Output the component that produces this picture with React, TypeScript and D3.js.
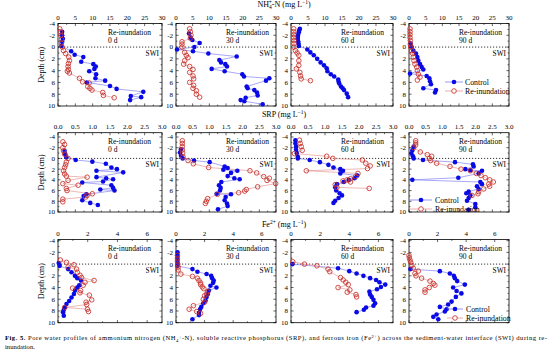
import React from 'react';
import * as d3 from 'd3';

// ---- data: [value, depth (cm)] ----
const nh4Ctrl0 = [[1.2,-2.6],[1.2,-2.0],[1.4,-1.4],[1.2,-0.9],[1.0,-0.2],[3.8,0.7],[4.8,1.3],[7.3,1.7],[6.7,2.5],[10.2,2.9],[10.9,3.3],[10.5,3.7],[9.0,4.1],[11.0,4.6],[10.8,5.3],[13.6,5.7],[8.3,6.0],[15.0,6.6],[16.9,7.1],[24.6,7.6],[21.0,8.3],[24.0,8.5],[20.8,9.0]];
const nh4Re0 = [[0.5,-3.1],[0.7,-2.6],[0.8,-2.0],[1.0,-1.3],[1.0,-0.7],[1.2,0],[1.6,0.6],[2.2,1.1],[3.1,1.7],[3.3,2.3],[3.0,2.8],[2.9,3.3],[3.0,3.8],[2.7,4.1],[3.3,4.4],[6.2,5.3],[7.1,5.9],[9.0,6.1],[8.6,6.7],[9.2,7.0],[9.8,7.3],[12.9,7.7],[13.1,8.2],[16.2,8.6]];
const nh4Ctrl30 = [[3.9,-2.3],[4.4,-1.6],[4.9,-1.2],[7.1,-0.7],[5.5,0.0],[0.3,0.4],[5.1,0.7],[9.7,1.1],[18.2,1.6],[13.0,2.2],[13.5,2.6],[14.8,2.9],[15.3,3.3],[10.7,3.7],[14.6,4.1],[19.9,4.6],[20.4,5.0],[28.0,5.3],[27.0,5.7],[21.2,6.7],[21.5,7.0],[23.5,7.3],[24.3,7.7],[24.5,8.2],[20.9,8.6],[19.4,9.0],[20.5,9.2],[26.0,9.7]];
const nh4Re30 = [[4.1,-3.1],[4.3,-2.6],[4.5,-2.0],[4.3,-1.5],[1.8,-0.9],[1.8,-0.5],[1.8,0],[2.6,0.9],[3.1,1.4],[3.6,1.8],[2.6,2.3],[2.3,2.9],[4.1,3.3],[5.1,3.8],[4.1,4.3],[5.1,4.9],[5.3,5.4],[4.1,6.0],[5.3,6.5],[5.1,7.0],[6.1,7.4],[6.1,8.0],[7.1,8.5]];
const nh4Ctrl60 = [[2.6,-3.1],[2.4,-2.8],[2.3,-2.5],[2.1,-2.1],[2.0,-1.8],[2.0,-1.4],[2.1,-1.0],[2.2,-0.6],[2.3,-0.2],[4.8,0.4],[5.7,0.9],[6.7,1.4],[7.7,2.0],[8.7,2.6],[9.7,3.1],[10.5,3.6],[10.7,4.1],[11.7,4.6],[12.7,5.0],[13.9,5.5],[14.0,5.9],[14.2,6.2],[14.7,6.7],[15.2,7.0],[15.6,7.3],[16.4,7.9],[16.8,8.5]];
const nh4Re60 = [[0.8,-3.1],[0.8,-2.6],[0.8,-2.1],[0.8,-1.6],[0.9,-1.1],[0.9,-0.6],[0.8,0],[1.3,0.6],[1.8,1.0],[2.3,1.4],[2.3,2.3],[2.3,3.1],[1.6,3.7],[2.6,4.3],[2.8,4.9],[3.0,5.4],[5.7,5.7]];
const nh4Ctrl90 = [[0.5,-0.6],[0.8,0],[1.3,0.6],[2.1,1.1],[2.5,1.7],[2.8,2.3],[3.3,2.9],[3.8,3.4],[4.3,3.8],[0.3,4.5],[5.3,4.9],[6.1,5.3],[6.3,5.8],[6.6,6.3],[4.3,7.0],[8.1,7.3],[7.8,7.7]];
const nh4Re90 = [[0.3,-3.1],[0.3,-2.6],[0.3,-2.1],[0.3,-1.6],[0.4,-1.1],[0.4,-0.5],[0.5,0],[0.8,0.6],[1.1,1.1],[1.3,1.7],[1.5,2.3],[1.8,2.9],[2.3,3.4],[2.5,4.0],[2.8,4.6],[3.3,5.1],[2.5,5.6]];

const srpCtrl0 = [[0.19,-1.4],[0.21,-0.8],[0.24,-0.2],[0.51,0.3],[0.99,0.6],[1.38,1.0],[1.54,1.7],[1.70,2.0],[1.11,2.3],[1.88,2.6],[1.11,3.5],[1.39,3.7],[1.59,3.9],[1.30,4.3],[0.70,4.5],[1.54,5.0],[1.59,5.5],[1.22,5.8],[1.63,6.0],[0.82,6.7],[0.74,7.0],[0.70,7.8],[0.93,8.3],[1.15,8.7]];
const srpRe0 = [[0.14,-3.1],[0.19,-2.6],[0.14,-2.0],[0.16,-1.4],[0.19,-0.8],[0.29,0],[0.24,0.7],[0.22,1.2],[0.19,1.7],[0.16,2.3],[0.19,2.9],[0.24,3.3],[0.84,3.5],[0.29,4.1],[0.14,4.7],[0.58,5.0],[0.24,5.6],[0.26,6.0],[0.99,6.6],[0.84,6.9],[0.80,7.2],[0.14,7.6],[0.14,8.1]];
const srpCtrl30 = [[0.15,-1.7],[0.12,-1.1],[0.15,-0.5],[0.2,0],[0.54,0.4],[1.01,0.7],[1.46,1.5],[1.55,1.8],[1.42,2.1],[1.84,2.3],[1.65,2.7],[1.55,3.3],[1.75,3.7],[1.91,3.9],[1.36,4.4],[1.29,5.0],[1.34,5.5],[1.32,6.0],[1.22,6.6],[1.65,6.7],[1.49,7.2],[1.46,7.8],[1.53,8.4],[1.55,8.9],[1.26,9.5]];
const srpRe30 = [[0.19,-3.3],[0.19,-2.8],[0.19,-2.2],[0.19,-1.6],[0.2,-1.0],[0.21,-0.3],[0.36,0.4],[0.52,1.0],[0.98,1.7],[2.22,2.3],[2.42,2.7],[2.63,3.4],[2.80,3.7],[2.73,4.1],[2.99,4.7],[2.45,5.3],[2.11,5.8],[2.06,6.1],[1.88,6.4],[1.24,6.7],[0.95,7.5],[0.91,8.0],[0.88,8.4]];
const srpCtrl60 = [[0.13,-3.4],[0.13,-2.8],[0.15,-2.2],[0.15,-1.6],[0.17,-1.0],[0.2,-0.3],[0.2,0],[0.55,0.3],[0.85,0.7],[1.10,1.2],[1.25,1.7],[1.45,2.0],[1.53,2.3],[1.45,2.8],[1.95,3.2],[1.87,3.7],[1.70,4.0],[1.55,4.4],[1.35,4.8],[1.30,5.4],[1.33,6.0],[1.43,6.5],[1.50,6.9],[1.40,7.4],[1.30,7.9],[1.25,8.3]];
const srpRe60 = [[0.25,-3.4],[0.27,-2.8],[0.30,-2.2],[0.33,-1.5],[0.10,-0.9],[1.05,-0.4],[1.23,0],[2.10,0.3],[2.20,0.9],[2.33,1.4],[2.25,1.9],[0.45,2.3],[1.97,2.8],[1.90,3.4],[1.75,3.8],[1.65,4.0],[1.53,4.2],[1.75,4.4],[1.30,4.9],[1.35,5.4],[2.30,5.6]];
const srpCtrl90 = [[0.14,-2.2],[0.10,-1.5],[0.07,-0.9],[0.12,-0.4],[0.14,0],[0.42,0.3],[1.38,0.7],[1.92,1.1],[1.94,1.5],[1.69,2.0],[1.84,2.2],[2.19,2.3],[2.09,2.8],[1.48,3.6],[0.10,4.0],[2.14,4.4],[2.19,4.8],[2.04,5.2],[2.09,5.7],[1.79,6.2],[1.72,6.5],[1.84,6.9],[1.79,7.4],[1.74,7.9],[1.99,8.5],[1.99,9.1],[1.79,9.6]];
const srpRe90 = [[0.20,-3.3],[0.20,-2.9],[0.20,-2.5],[0.14,-2.0],[0.34,-1.2],[0.55,-0.7],[0.68,-0.4],[0.61,0],[0.65,0.4],[0.83,0.9],[1.23,1.5],[1.56,2.0],[1.84,2.3],[2.02,2.8],[2.16,3.2],[2.29,3.6],[2.42,4.0],[2.53,4.4],[2.39,4.8],[2.42,5.2],[2.24,5.7],[2.09,6.2],[2.07,6.6],[1.89,6.9]];

const feCtrl0 = [[0.05,-0.2],[0.11,0.3],[0.68,0.85],[0.91,1.4],[1.14,2.0],[1.30,2.4],[1.55,2.8],[1.43,3.6],[1.30,4.0],[1.14,4.5],[1.07,5.1],[0.91,5.7],[0.75,6.3],[0.57,6.8],[0.45,7.4],[0.39,7.8],[0.34,8.2],[0.39,8.8]];
const feRe0 = [[0.16,-0.7],[0.57,-0.3],[1.07,0.1],[0.68,0.5],[1.25,0.85],[1.30,1.4],[1.48,1.9],[1.59,2.3],[2.43,2.8],[1.82,3.1],[1.70,3.6],[0.98,4.1],[1.52,4.5],[1.48,4.9],[2.11,5.3],[2.27,6.1],[1.89,6.5],[1.93,6.9],[0.45,7.4],[1.98,7.7],[2.05,8.1]];
const feCtrl30 = [[0.11,-2.0],[0.1,-1.4],[0.1,-0.8],[0.1,-0.2],[0.1,0.3],[1.15,0.85],[1.5,1.3],[2.14,1.7],[2.46,2.0],[2.53,2.4],[2.64,2.8],[2.6,3.2],[2.41,3.7],[2.83,4.0],[2.30,4.5],[2.23,5.1],[2.14,5.6],[2.07,6.2],[1.91,6.7],[1.77,7.3],[1.68,7.7],[1.61,8.3],[1.61,8.7],[1.15,9.4]];
const feRe30 = [[0.1,-1.5],[0.1,-1.0],[0.1,-0.5],[0.12,0],[0.15,0.5],[0.15,1.0],[0.34,1.7],[1.15,2.1],[1.49,2.4],[1.61,2.8],[1.72,3.2],[1.72,3.5],[1.84,3.9],[1.95,4.2],[2.23,4.7],[2.14,5.1],[2.0,5.4],[1.91,6.0],[2.0,6.5],[1.22,7.1],[0.92,7.7],[1.45,8.1],[1.72,8.4]];
const feCtrl60 = [[0.1,0],[3.23,0.7],[4.0,1.2],[4.5,1.6],[4.97,2.0],[5.43,2.4],[5.84,2.7],[6.07,3.1],[6.47,3.5],[6.17,3.9],[5.9,4.3],[5.38,4.7],[5.43,5.2],[5.54,5.6],[5.66,6.1],[5.77,6.7],[5.66,7.1],[5.15,7.4],[5.0,7.8],[4.5,8.2]];
const feRe60 = [[0.12,-0.4],[0.92,0],[1.78,0.3],[2.54,0.85],[2.66,1.3],[3.4,2.3],[3.58,2.7],[3.76,3.1],[3.93,3.5],[3.23,4.0],[4.04,4.4],[3.86,4.8],[4.46,5.2],[4.5,5.6]];
const feCtrl90 = [[0.1,0.85],[2.16,1.2],[2.86,1.6],[3.14,2.0],[3.21,2.4],[3.37,2.9],[3.91,3.5],[3.09,4.0],[3.33,4.6],[3.67,5.0],[3.28,5.6],[2.98,6.4],[2.74,6.9],[2.16,7.3],[2.63,7.7],[2.51,8.1],[1.93,8.6],[1.70,9.0],[2.05,9.4]];
const feRe90 = [[0,-1.5],[0.02,-1.1],[0.07,-0.7],[0.12,-0.3],[0.2,0.2],[0.3,0.7],[0.65,1.2],[0.42,1.6],[0.49,2.0],[0.88,2.4],[1.47,2.9],[1.7,3.3],[1.81,3.6],[1.42,4.0],[1.12,4.4],[1.12,4.8]];

const days = ['0 d', '30 d', '60 d', '90 d'];
const depthTicks = [-4, -2, 0, 2, 4, 6, 8, 10];
const nh4Ticks = [0, 5, 10, 15, 20, 25, 30];
const srpTicks = [0, 0.5, 1, 1.5, 2, 2.5, 3];
const feTicks = [0, 2, 4, 6];
const seriesNames = ['Control', 'Re-inundation'];

// ---- layout ----
const FONT = '"Liberation Serif", "Times New Roman", serif';
const BLUE = '#0a0ae6';
const BLUE_LINE = '#6f6ff0';
const RED = '#c8302b';
const RED_LINE = '#e08a86';

const colLeft = [58, 176, 291, 409];
const colRight = [162, 276, 393, 509];
const rowTop = [23.5, 132.7, 239.5];
const rowBottom = [106, 212, 322.7];
const depthDomain = [[-4, 10], [-4.8, 10], [-4.2, 10]];
const legendPos = [
  { x0: 445, x1: 463, tx: 465, y: 82 },
  { x0: 410, x1: 432, tx: 435, y: 200 },
  { x0: 447, x1: 463, tx: 466, y: 309 },
];

const rows = [
  { ctrl: [nh4Ctrl0, nh4Ctrl30, nh4Ctrl60, nh4Ctrl90], re: [nh4Re0, nh4Re30, nh4Re60, nh4Re90],
    domain: [0, 30], ticks: nh4Ticks, minor: 2.5, fmt: (d: number) => String(d) },
  { ctrl: [srpCtrl0, srpCtrl30, srpCtrl60, srpCtrl90], re: [srpRe0, srpRe30, srpRe60, srpRe90],
    domain: [0, 3], ticks: srpTicks, minor: 0.25, fmt: (d: number) => d.toFixed(1) },
  { ctrl: [feCtrl0, feCtrl30, feCtrl60, feCtrl90], re: [feRe0, feRe30, feRe60, feRe90],
    domain: [0, 7], ticks: feTicks, minor: 1, fmt: (d: number) => String(d) },
];

function Panel({ r, c }: { r: number; c: number }) {
  const row = rows[r];
  const x = d3.scaleLinear().domain(row.domain).range([colLeft[c], colRight[c]]);
  const y = d3.scaleLinear().domain(depthDomain[r]).range([rowTop[r], rowBottom[r]]);
  const [x0, x1] = x.range();
  const [y0, y1] = y.range();
  const line = d3.line<number[]>().x(d => x(d[0])).y(d => y(d[1]));
  const minorX = d3.range(row.domain[0], row.domain[1] + 1e-9, row.minor);
  const minorY = d3.range(-4, 10.01, 1).filter(v => v >= depthDomain[r][0]);
  const ctrl = row.ctrl[c];
  const re = row.re[c];
  return (
    <g>
      <rect x={x0} y={y0} width={x1 - x0} height={y1 - y0} fill="none" stroke="#000" strokeWidth={0.8} />
      {minorX.map((v, i) => {
        const major = row.ticks.some(t => Math.abs(t - v) < 1e-9);
        const len = major ? 2.6 : 1.4;
        return (
          <g key={'xt' + i}>
            <line x1={x(v)} x2={x(v)} y1={y0} y2={y0 + len} stroke="#000" strokeWidth={0.6} />
            <line x1={x(v)} x2={x(v)} y1={y1} y2={y1 - len} stroke="#000" strokeWidth={0.6} />
          </g>
        );
      })}
      {row.ticks.map(t => (
        <text key={'xl' + t} x={x(t)} y={y0 - 4} textAnchor="middle" fontSize={7} fontFamily={FONT}>{row.fmt(t)}</text>
      ))}
      {minorY.map((v, i) => {
        const len = v % 2 === 0 ? 2.6 : 1.4;
        return (
          <g key={'yt' + i}>
            <line x1={x0} x2={x0 + len} y1={y(v)} y2={y(v)} stroke="#000" strokeWidth={0.6} />
            <line x1={x1} x2={x1 - len} y1={y(v)} y2={y(v)} stroke="#000" strokeWidth={0.6} />
          </g>
        );
      })}
      {depthTicks.map(t => (
        <text key={'yl' + t} x={x0 - 3} y={y(t) + 2.4} textAnchor="end" fontSize={7} fontFamily={FONT}>{t}</text>
      ))}
      <line x1={x0} x2={x1} y1={y(0)} y2={y(0)} stroke="#000" strokeWidth={0.8} strokeDasharray="1.2,1.8" />
      <text x={x1 - 3} y={y(0) + 8.5} textAnchor="end" fontSize={7.3} fontFamily={FONT}>SWI</text>
      <text x={x0 + 50} y={y0 + 11.5} fontSize={7.5} fontFamily={FONT}>Re-inundation</text>
      <text x={x0 + 50} y={y0 + 19.5} fontSize={7.5} fontFamily={FONT}>{days[c]}</text>
      <path d={line(ctrl) ?? ''} fill="none" stroke={BLUE_LINE} strokeWidth={0.6} />
      <path d={line(re) ?? ''} fill="none" stroke={RED_LINE} strokeWidth={0.6} />
      {ctrl.map((d, i) => (
        <circle key={'c' + i} cx={x(d[0])} cy={y(d[1])} r={2.3} fill={BLUE} />
      ))}
      {re.map((d, i) => (
        <circle key={'r' + i} cx={x(d[0])} cy={y(d[1])} r={2.3} fill="none" stroke={RED} strokeWidth={0.85} />
      ))}
    </g>
  );
}

function Legend({ r }: { r: number }) {
  const p = legendPos[r];
  const mid = (p.x0 + p.x1) / 2;
  return (
    <g fontFamily={FONT} fontSize={7.8}>
      <line x1={p.x0} x2={p.x1} y1={p.y} y2={p.y} stroke={BLUE_LINE} strokeWidth={0.7} />
      <circle cx={mid} cy={p.y} r={2.3} fill={BLUE} />
      <text x={p.tx} y={p.y + 2.6}>{seriesNames[0]}</text>
      <line x1={p.x0} x2={p.x1} y1={p.y + 9} y2={p.y + 9} stroke={RED_LINE} strokeWidth={0.7} />
      <circle cx={mid} cy={p.y + 9} r={2.3} fill="white" stroke={RED} strokeWidth={0.85} />
      <text x={p.tx} y={p.y + 11.6}>{seriesNames[1]}</text>
    </g>
  );
}

export default function App() {
  const titleY = [7, 117, 227];
  return (
    <svg width={554} height={361} style={{ position: 'absolute', left: 0, top: 0, background: '#fff' }}>
      <rect width={554} height={361} fill="#fff" />
      {rows.map((_, r) => (
        <g key={r}>
          {days.map((_, c) => <Panel key={c} r={r} c={c} />)}
          <Legend r={r} />
          <text transform={`translate(44,${(rowTop[r] + rowBottom[r]) / 2}) rotate(-90)`} textAnchor="middle"
            fontSize={7.8} fontFamily={FONT}>Depth (cm)</text>
        </g>
      ))}
      <text x={284} y={titleY[0]} textAnchor="middle" fontSize={8} fontFamily={FONT}>
        NH<tspan dy={2} fontSize={5.5}>4</tspan><tspan dx={-3} dy={-5} fontSize={5.5}>+</tspan><tspan dy={3}>-N (mg L</tspan><tspan dy={-3} fontSize={5.5}>−1</tspan><tspan dy={3}>)</tspan>
      </text>
      <text x={284} y={titleY[1]} textAnchor="middle" fontSize={8} fontFamily={FONT}>
        SRP (mg L<tspan dy={-3} fontSize={5.5}>−1</tspan><tspan dy={3}>)</tspan>
      </text>
      <text x={284} y={titleY[2]} textAnchor="middle" fontSize={8} fontFamily={FONT}>
        Fe<tspan dy={-3} fontSize={5.5}>2+</tspan><tspan dy={3}> (mg L</tspan><tspan dy={-3} fontSize={5.5}>−1</tspan><tspan dy={3}>)</tspan>
      </text>
      <text x={5} y={340} fontSize={6.6} fontFamily={FONT} textLength={542} lengthAdjust="spacing">
        <tspan fontWeight="bold">Fig. 5.</tspan> Pore water profiles of ammonium nitrogen (NH<tspan fontSize={4.6} dy={1.5}>4</tspan><tspan fontSize={4.6} dy={-3}>+</tspan><tspan dy={1.5}>-N), soluble reactive phosphorus (SRP), and ferrous iron (Fe</tspan><tspan fontSize={4.6} dy={-2}>2+</tspan><tspan dy={2}>) across the sediment-water interface (SWI) during re-</tspan>
      </text>
      <text x={5} y={349} fontSize={6.6} fontFamily={FONT}>inundation.</text>
    </svg>
  );
}
